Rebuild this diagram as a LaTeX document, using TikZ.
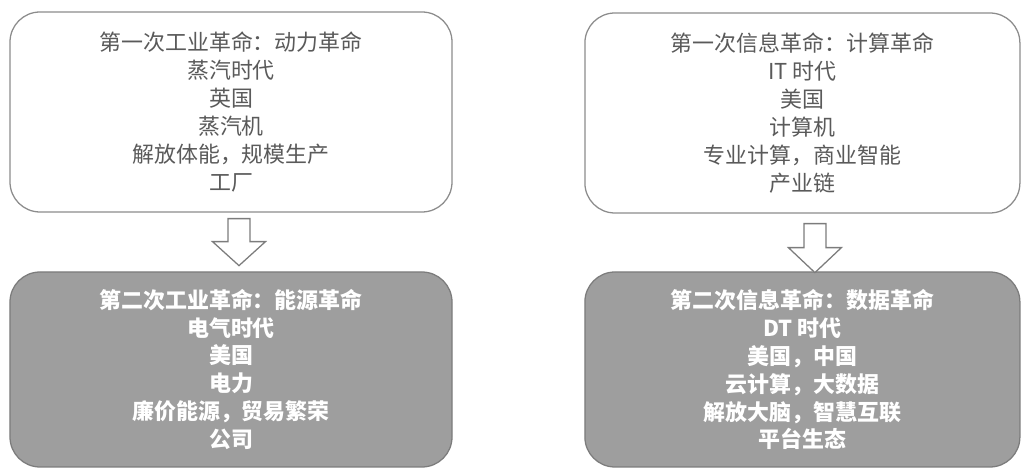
\documentclass[tikz,border=0pt]{standalone}
\usepackage{fontspec}
\newfontfamily\cjk{Noto Sans CJK SC}
\usepackage{xcolor}
\usetikzlibrary{positioning,calc}

\definecolor{linegray}{HTML}{8C8C8C}
\definecolor{textgray}{HTML}{5A5A5A}
\definecolor{fillgray}{HTML}{9E9E9E}
\definecolor{darkgray}{HTML}{7C7C7C}

\begin{document}
\begin{tikzpicture}[thick, scale = 1.0,
  revbox/.style={rounded corners=0.75cm,align=center,inner sep=0pt,
    font=\cjk\fontsize{15.6pt}{19.9pt}\selectfont},
  firstbox/.style={revbox,draw=linegray,line width=0.9pt,fill=white,text=textgray,
    minimum height=5cm},
  secondbox/.style={revbox,draw=darkgray,line width=0.9pt,fill=fillgray,text=white,
    minimum height=4.875cm,font=\cjk\bfseries\fontsize{15.6pt}{19.9pt}\selectfont},
  hollow/.style={draw=darkgray,line width=0.9pt,fill=white,line join=miter}]

    \useasboundingbox (0,0) rectangle (25.55,11.725);

    % The boxes
	\node [firstbox,minimum width=11.05cm] at (5.775,8.925) (ind1)
	  {第一次工业革命：动力革命\\蒸汽时代\\英国\\蒸汽机\\解放体能，规模生产\\工厂};
	\node [secondbox,minimum width=11.05cm] at (5.775,2.4875) (ind2)
	  {第二次工业革命：能源革命\\电气时代\\美国\\电力\\廉价能源，贸易繁荣\\公司};

	\node [firstbox,minimum width=10.875cm] at (20.06,8.9) (info1)
	  {第一次信息革命：计算革命\\IT 时代\\美国\\计算机\\专业计算，商业智能\\产业链};
	\node [secondbox,minimum width=10.875cm] at (20.06,2.4875) (info2)
	  {第二次信息革命：数据革命\\DT 时代\\美国，中国\\云计算，大数据\\解放大脑，智慧互联\\平台生态};

	% Block arrows
	\draw [hollow] ($(ind1.south)+(-0.075,-0.15)$) -- ++(0.55,0) -- ++(0,-0.575)
	  -- ++(0.3875,0) -- ++(-0.6625,-0.6) -- ++(-0.6625,0.6) -- ++(0.3875,0) -- cycle;
	\draw [hollow] ($(info1.south)+(0.0375,-0.25)$) -- ++(0.55,0) -- ++(0,-0.6)
	  -- ++(0.3875,0) -- ++(-0.6625,-0.625) -- ++(-0.6625,0.625) -- ++(0.3875,0) -- cycle;

\end{tikzpicture}
\end{document}
